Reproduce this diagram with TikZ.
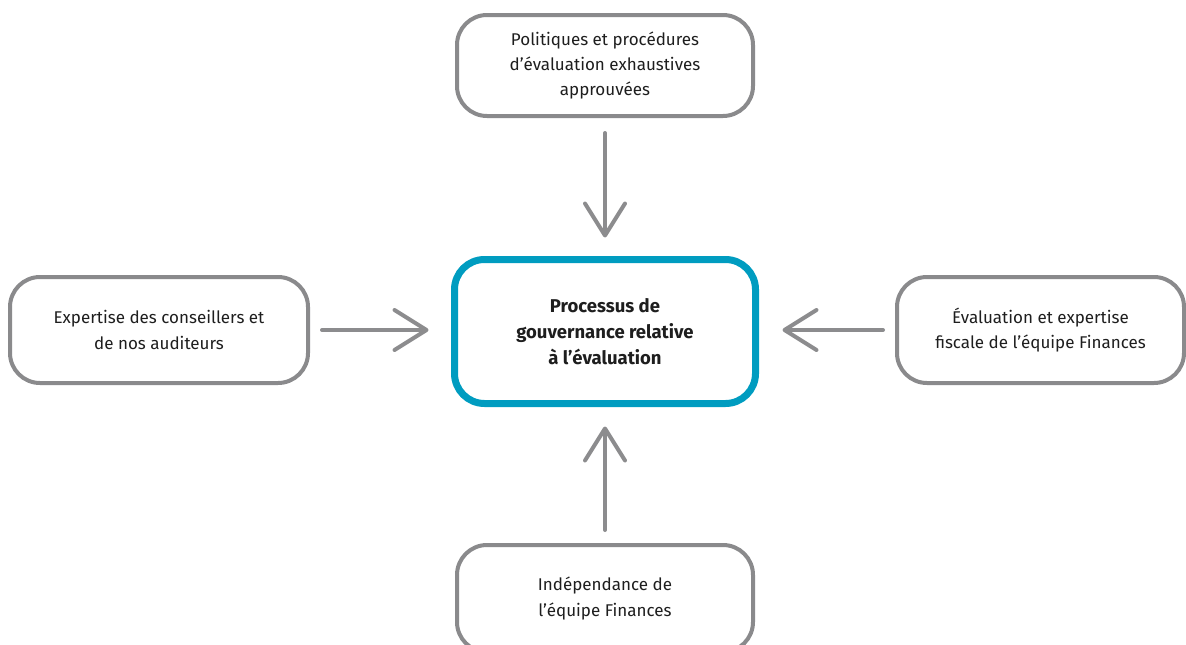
\documentclass[tikz,border=0pt]{standalone}
\usepackage{fontspec}
\setmainfont{Fira Sans}
\usetikzlibrary{arrows.meta}
\definecolor{boxgray}{RGB}{138,138,140}
\definecolor{arrgray}{RGB}{140,140,142}
\definecolor{mainblue}{RGB}{0,156,192}
\definecolor{txt}{RGB}{30,30,30}
\tikzset{
  sidebox/.style={draw=boxgray, line width=4pt, rounded corners=30pt, outer sep=0pt, fill=white,
    text=txt, align=center, font=\fontsize{17}{25.5}\selectfont},
  mainbox/.style={draw=mainblue, line width=7pt, rounded corners=30pt, outer sep=0pt, fill=white,
    text=txt, align=center, font=\fontsize{18.5}{26}\selectfont\bfseries},
  flow/.style={draw=arrgray, line width=4pt, line cap=round,
    -{Straight Barb[length=32pt,width=40pt,line cap=round,line join=round]}}
}
\begin{document}
\begin{tikzpicture}[x=1pt,y=-1pt]
\useasboundingbox (0,0) rectangle (1186,645);
\clip (0,0) rectangle (1186,645);
\node[mainbox, minimum width=301pt, minimum height=144pt] (c) at (605,331.5)
  {Processus de\\gouvernance relative\\à l’évaluation};
\node[sidebox, minimum width=296pt, minimum height=101pt] (t) at (605,65.5)
  {Politiques et procédures\\d’évaluation exhaustives\\approuvées};
\node[sidebox, minimum width=298pt, minimum height=106pt] (l) at (159,330)
  {Expertise des conseillers et\\de nos auditeurs};
\node[sidebox, minimum width=287pt, minimum height=106pt] (r) at (1040.5,330)
  {Évaluation et expertise\\fiscale de l’équipe Finances};
\node[sidebox, minimum width=296pt, minimum height=107pt] (b) at (605,598.5)
  {Indépendance de\\l’équipe Finances};
\draw[flow, shorten <=17pt, shorten >=22pt] (t.south) -- (c.north);
\draw[flow, shorten <=15pt, shorten >=23pt] (b.north) -- (c.south);
\draw[flow, shorten <=14pt, shorten >=26pt] (l.east) -- (l.east -| c.west);
\draw[flow, shorten <=14pt, shorten >=27pt] (r.west) -- (r.west -| c.east);
\end{tikzpicture}
\end{document}
